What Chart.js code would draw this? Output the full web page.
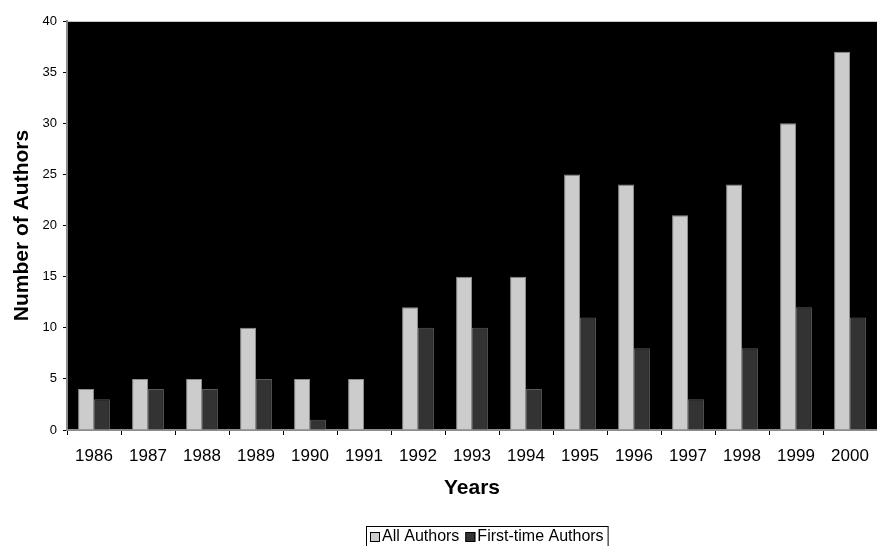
<!DOCTYPE html>
<html>
<head>
<meta charset="utf-8">
<script src="https://cdn.jsdelivr.net/npm/chart.js@4.4.0/dist/chart.umd.min.js"></script>
<style>
  html, body { margin: 0; padding: 0; background: #fff; }
  #wrap { width: 877px; height: 546px; }
</style>
</head>
<body>
<div id="wrap"><canvas id="authorsChart" width="877" height="546"></canvas></div>
<script>
// ========== DATA ==========
const years = ['1986', '1987', '1988', '1989', '1990', '1991', '1992', '1993', '1994', '1995', '1996', '1997', '1998', '1999', '2000'];
const allAuthors = [4, 5, 5, 10, 5, 5, 12, 15, 15, 25, 24, 21, 24, 30, 37];
const firstTimeAuthors = [3, 4, 4, 5, 1, 0, 10, 10, 4, 11, 8, 3, 8, 12, 11];
const seriesNames = ['All Authors', 'First-time Authors'];
const seriesColors = ['#cccccc', '#333333'];

const FONT = 'Arial, "Liberation Sans", sans-serif';

// Black plot area + grey frame on top
const plotBackground = {
    id: 'plotBackground',
    beforeDraw(chart) {
        const { ctx, chartArea: a } = chart;
        ctx.save();
        ctx.fillStyle = '#000000';
        ctx.fillRect(a.left, a.top, a.right - a.left, a.bottom - a.top);
        ctx.strokeStyle = '#c8c8c8';
        ctx.lineWidth = 1;
        ctx.beginPath();
        ctx.moveTo(a.left, a.top + 0.5);
        ctx.lineTo(a.right, a.top + 0.5);
        ctx.stroke();
        ctx.restore();
    }
};

// Boxed legend under the axis title
const boxLegend = {
    id: 'boxLegend',
    afterDraw(chart) {
        const { ctx } = chart;
        ctx.save();
        ctx.font = '16px ' + FONT;
        ctx.textBaseline = 'middle';
        const sq = 10, gap = 2, between = 6;
        const widths = seriesNames.map(n => ctx.measureText(n).width);
        let total = 0;
        widths.forEach((w, i) => { total += sq + gap + w + (i ? between : 0); });
        const boxW = total + 8;
        const boxLeft = Math.round(487 - boxW / 2), boxTop = 526.5;
        ctx.strokeStyle = '#000000';
        ctx.lineWidth = 1;
        ctx.strokeRect(boxLeft + 0.5, boxTop, boxW, 24);
        let x = boxLeft + 4;
        const cy = 537;
        seriesNames.forEach((n, i) => {
            ctx.fillStyle = seriesColors[i];
            ctx.fillRect(x, cy - sq / 2, sq, sq);
            ctx.strokeStyle = '#000000';
            ctx.strokeRect(x + 0.5, cy - sq / 2 + 0.5, sq - 1, sq - 1);
            x += sq + gap;
            ctx.fillStyle = '#000000';
            ctx.fillText(n, x, cy);
            x += widths[i] + between;
        });
        ctx.restore();
    }
};

new Chart(document.getElementById('authorsChart'), {
    type: 'bar',
    data: {
        labels: years,
        datasets: [
            {
                label: seriesNames[0],
                data: allAuthors,
                backgroundColor: seriesColors[0],
                borderColor: '#8c8c8c',
                borderWidth: 1,
                barPercentage: 1,
                categoryPercentage: 0.59
            },
            {
                label: seriesNames[1],
                data: firstTimeAuthors,
                backgroundColor: seriesColors[1],
                borderColor: '#5a5a5a',
                borderWidth: 1,
                barPercentage: 1,
                categoryPercentage: 0.59
            }
        ]
    },
    options: {
        responsive: false,
        animation: false,
        layout: { padding: { top: 21, right: 0, bottom: 38, left: 0 } },
        plugins: {
            legend: { display: false },
            tooltip: { enabled: false }
        },
        scales: {
            x: {
                afterFit(scale) {
                    scale.height = 78;
                    scale.paddingLeft = 0;
                    scale.paddingRight = 0;
                },
                grid: {
                    display: true,
                    offset: true,
                    drawOnChartArea: false,
                    drawTicks: true,
                    tickLength: 5,
                    color: '#000000'
                },
                border: { display: true, color: '#8c8c8c', width: 2 },
                ticks: {
                    color: '#000000',
                    font: { family: FONT, size: 17 },
                    padding: 11,
                    maxRotation: 0
                },
                title: {
                    display: true,
                    text: 'Years',
                    color: '#000000',
                    font: { family: FONT, size: 21, weight: 'bold' },
                    padding: { top: 8, bottom: 7 }
                }
            },
            y: {
                min: 0,
                max: 40,
                afterFit(scale) { scale.width = 67; },
                grid: {
                    display: true,
                    drawOnChartArea: false,
                    drawTicks: true,
                    tickLength: 4,
                    color: '#000000'
                },
                border: { display: true, color: '#8c8c8c', width: 2 },
                ticks: {
                    stepSize: 5,
                    color: '#000000',
                    font: { family: FONT, size: 13 },
                    padding: 6
                },
                title: {
                    display: true,
                    text: 'Number of Authors',
                    color: '#000000',
                    font: { family: FONT, size: 21, weight: 'bold' },
                    padding: { top: 10, bottom: 0 }
                }
            }
        }
    },
    plugins: [plotBackground, boxLegend]
});
</script>
</body>
</html>
